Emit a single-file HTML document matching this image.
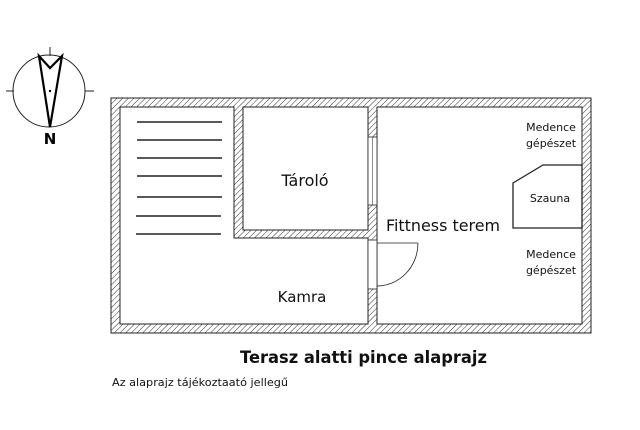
<!DOCTYPE html>
<html><head><meta charset="utf-8"><style>html,body{margin:0;padding:0;background:#fff}svg{display:block}</style></head>
<body>
<svg width="640" height="430" viewBox="0 0 640 430" xmlns="http://www.w3.org/2000/svg" font-family="'DejaVu Sans','Liberation Sans',sans-serif">
<defs>
<pattern id="h" width="4" height="4" patternUnits="userSpaceOnUse" patternTransform="rotate(45)">
<rect width="4" height="4" fill="#fff"/><line x1="0" y1="0" x2="0" y2="4" stroke="#333" stroke-width="1"/>
</pattern>
</defs>
<!-- compass -->
<circle cx="49" cy="91" r="36" fill="none" stroke="#222" stroke-width="1"/>
<line x1="50" y1="47" x2="50" y2="56" stroke="#222"/>
<line x1="6" y1="91" x2="14" y2="91" stroke="#222"/>
<line x1="85" y1="91" x2="94" y2="91" stroke="#222"/>
<polygon points="39,56 50,68 62,56 50,127" fill="#fff" stroke="#000" stroke-width="2.2" stroke-linejoin="miter"/>
<circle cx="50" cy="91" r="1.2" fill="#000"/>
<text x="50" y="144" font-size="15" font-weight="bold" text-anchor="middle">N</text>
<!-- walls -->
<rect x="111" y="98" width="480" height="235" fill="url(#h)" stroke="#222" stroke-width="1"/>
<polygon points="120,107 234,107 234,238 368,238 368,324 120,324" fill="#fff" stroke="#222" stroke-width="1"/>
<rect x="243" y="107" width="125" height="123" fill="#fff" stroke="#222" stroke-width="1"/>
<rect x="377" y="107" width="205" height="217" fill="#fff" stroke="#222" stroke-width="1"/>
<!-- window -->
<rect x="368" y="137" width="9" height="68" fill="#fff" stroke="#222" stroke-width="0.8"/>
<line x1="372.5" y1="137" x2="372.5" y2="205" stroke="#444" stroke-width="0.6"/>
<!-- door -->
<rect x="368" y="240" width="9" height="49" fill="#fff" stroke="#222" stroke-width="0.8"/>
<line x1="377" y1="243" x2="418" y2="243" stroke="#222" stroke-width="0.8"/>
<path d="M418,243 A41,43 0 0 1 377,286" fill="none" stroke="#222" stroke-width="0.8"/>
<!-- stairs -->
<g stroke="#222" stroke-width="1.6">
<line x1="137" y1="122" x2="222" y2="122"/>
<line x1="137" y1="140" x2="222" y2="140"/>
<line x1="137" y1="158" x2="222" y2="158"/>
<line x1="137" y1="176" x2="222" y2="176"/>
<line x1="137" y1="197" x2="222" y2="197"/>
<line x1="136" y1="216" x2="221" y2="216"/>
<line x1="136" y1="234" x2="221" y2="234"/>
</g>
<!-- sauna -->
<polygon points="513,183 543,165 582,165 582,228 513,228" fill="#fff" stroke="#222" stroke-width="1.3"/>
<g fill="#111">
<text x="550" y="202" font-size="11" text-anchor="middle">Szauna</text>
<text x="551" y="131" font-size="11" text-anchor="middle">Medence</text>
<text x="551" y="147" font-size="11" text-anchor="middle">gépészet</text>
<text x="551" y="258" font-size="11" text-anchor="middle">Medence</text>
<text x="551" y="274" font-size="11" text-anchor="middle">gépészet</text>
<text x="305" y="186" font-size="16" text-anchor="middle">Tároló</text>
<text x="386" y="231" font-size="16" textLength="114" lengthAdjust="spacingAndGlyphs">Fittness terem</text>
<text x="302" y="302" font-size="15" text-anchor="middle">Kamra</text>
<text x="240" y="363" font-size="17" font-weight="bold" textLength="247" lengthAdjust="spacingAndGlyphs">Terasz alatti pince alaprajz</text>
<text x="112" y="386" font-size="11" textLength="176" lengthAdjust="spacingAndGlyphs">Az alaprajz tájékoztaató jellegű</text>
</g>
</svg>
</body></html>
